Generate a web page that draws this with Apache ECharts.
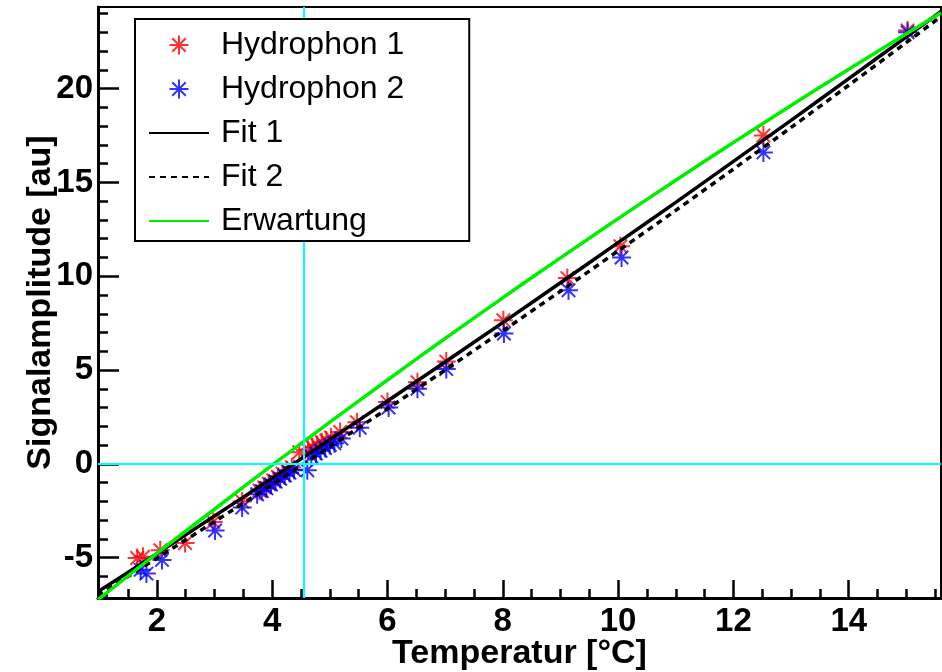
<!DOCTYPE html>
<html>
<head>
<meta charset="utf-8">
<script src="https://cdn.jsdelivr.net/npm/echarts@6/dist/echarts.min.js"></script>
<style>
html,body{margin:0;padding:0;background:#fff;}
#chart{width:942px;height:672px;}
</style>
</head>
<body>
<div id="chart"></div>
<script>
// ---- data ----
const h1X = [1.66, 1.76, 2.06, 2.49, 2.98, 3.48, 3.78, 3.86, 3.94, 4.02, 4.10, 4.18, 4.26, 4.34, 4.47, 4.62, 4.70, 4.78, 4.86, 4.94, 5.02, 5.18, 5.47, 6.00, 6.52, 7.02, 8.01, 9.12, 10.04, 12.52, 15.02];
const h1Y = [-5.02, -4.95, -4.6, -4.22, -3.1, -2.0, -1.42, -1.25, -1.05, -0.87, -0.7, -0.52, -0.35, -0.18, 0.62, 0.75, 0.9, 1.0, 1.15, 1.25, 1.4, 1.7, 2.22, 3.3, 4.35, 5.45, 7.66, 9.9, 11.6, 17.5, 23.1];
const h2X = [1.72, 1.82, 2.09, 3.01, 3.48, 3.74, 3.82, 3.90, 3.98, 4.06, 4.14, 4.22, 4.30, 4.38, 4.61, 4.68, 4.76, 4.84, 4.92, 5.00, 5.08, 5.20, 5.52, 6.02, 6.52, 7.02, 8.02, 9.14, 10.06, 12.52, 15.02];
const h2Y = [-5.65, -5.85, -5.12, -3.55, -2.33, -1.62, -1.45, -1.3, -1.1, -0.95, -0.8, -0.62, -0.47, -0.32, -0.34, 0.4, 0.55, 0.7, 0.85, 1.0, 1.1, 1.35, 1.92, 3.0, 4.0, 5.05, 6.95, 9.25, 11.0, 16.6, 23.0];
const fitX  = [0.98, 2, 3, 4, 5, 6, 7, 8, 9, 10, 11, 12, 13, 14, 15, 15.6];
const fit1Y = [-6.81, -4.79, -2.78, -0.76, 1.29, 3.35, 5.43, 7.53, 9.65, 11.79, 13.94, 16.12, 18.31, 20.53, 22.76, 24.11];
const fit2Y = [-7.00, -5.03, -3.08, -1.10, 0.91, 2.94, 5.00, 7.09, 9.20, 11.35, 13.51, 15.71, 17.93, 20.18, 22.46, 23.84];
const expY  = [-7.23, -4.77, -2.42, -0.07, 2.22, 4.47, 6.68, 8.85, 10.98, 13.07, 15.12, 17.13, 19.10, 21.03, 22.92, 24.04];
const crossX = 4.54;
const crossY = 0;
const xTickLabels = [2, 4, 6, 8, 10, 12, 14];
const yTickLabels = [-5, 0, 5, 10, 15, 20];
const xRange = [0.98, 15.6];
const yRange = [-7.15, 24.35];
const seriesNames = ['Hydrophon 1', 'Hydrophon 2', 'Fit 1', 'Fit 2', 'Erwartung'];

// ---- helpers ----
function zip(xs, ys) { return xs.map((x, i) => [x, ys[i]]); }
function steps(a, b, s) { const r = []; for (let v = a; v <= b + 1e-9; v += s) r.push(+v.toFixed(3)); return r; }
const xMinor = steps(1, 15.5, 0.5).filter(v => xTickLabels.indexOf(v) < 0);
const yMinor = steps(-7, 24, 1).filter(v => yTickLabels.indexOf(v) < 0);

const FONT = '"Liberation Sans", Arial, Helvetica, sans-serif';
const star = 'path://M10,0L10,20M0,10L20,10M2.93,2.93L17.07,17.07M2.93,17.07L17.07,2.93';

const chart = echarts.init(document.getElementById('chart'), null, {renderer: 'canvas'});
const axisCommon = {type: 'value', splitLine: {show: false}};
const option = {
  animation: false,
  backgroundColor: '#fff',
  grid: {left: 98, right: 1, top: 7, bottom: 74, containLabel: false, outerBoundsMode: 'none',
    show: true, borderColor: '#000', borderWidth: 2, backgroundColor: 'transparent'},
  xAxis: [
    Object.assign({}, axisCommon, {
      min: xRange[0], max: xRange[1],
      axisLine: {show: true, onZero: false, lineStyle: {color: '#000', width: 3}},
      axisTick: {show: true, inside: true, length: 18, customValues: xTickLabels, lineStyle: {color: '#000', width: 2.5}},
      axisLabel: {show: true, customValues: xTickLabels, margin: 7, color: '#000', fontFamily: FONT, fontWeight: 'bold', fontSize: 33},
      name: 'Temperatur [°C]', nameLocation: 'middle', nameGap: 39, nameMoveOverlap: false,
      nameTextStyle: {color: '#000', fontFamily: FONT, fontWeight: 'bold', fontSize: 34}
    }),
    Object.assign({}, axisCommon, {
      min: xRange[0], max: xRange[1], position: 'bottom',
      axisLine: {show: false, onZero: false},
      axisTick: {show: true, inside: true, length: 9, customValues: xMinor, lineStyle: {color: '#000', width: 2.5}},
      axisLabel: {show: false}
    })
  ],
  yAxis: [
    Object.assign({}, axisCommon, {
      min: yRange[0], max: yRange[1],
      axisLine: {show: true, onZero: false, lineStyle: {color: '#000', width: 3}},
      axisTick: {show: true, inside: true, length: 21, customValues: yTickLabels, lineStyle: {color: '#000', width: 2.5}},
      axisLabel: {show: true, customValues: yTickLabels, margin: 5, color: '#000', fontFamily: FONT, fontWeight: 'bold', fontSize: 33},
      name: 'Signalamplitude [au]', nameLocation: 'middle', nameGap: 40, nameMoveOverlap: false,
      nameTextStyle: {color: '#000', fontFamily: FONT, fontWeight: 'bold', fontSize: 34}
    }),
    Object.assign({}, axisCommon, {
      min: yRange[0], max: yRange[1], position: 'left',
      axisLine: {show: false, onZero: false},
      axisTick: {show: true, inside: true, length: 10, customValues: yMinor, lineStyle: {color: '#000', width: 2.5}},
      axisLabel: {show: false}
    })
  ],
  legend: {
    data: seriesNames.map((n, i) => i < 2 ? {name: n} : {name: n, itemStyle: {opacity: 0}}),
    orient: 'vertical',
    left: 135, top: 19,
    padding: [8, 65, 2, 13],
    itemGap: 8,
    itemWidth: 60, itemHeight: 19,
    backgroundColor: '#fff',
    borderColor: '#000', borderWidth: 2,
    borderRadius: 0,
    z: 10,
    textStyle: {color: '#000', fontFamily: FONT, fontSize: 32, lineHeight: 36, padding: [0, 0, 0, 7]}
  },
  series: [
    {name: seriesNames[0], type: 'scatter', data: zip(h1X, h1Y), symbol: star, symbolSize: 19,
      itemStyle: {color: '#ff0000', borderColor: '#ff0000', borderWidth: 2}, z: 2},
    {name: seriesNames[1], type: 'scatter', data: zip(h2X, h2Y), symbol: star, symbolSize: 19,
      itemStyle: {color: '#0000ff', borderColor: '#0000ff', borderWidth: 2}, z: 2},
    {name: seriesNames[2], type: 'line', data: zip(fitX, fit1Y), symbol: 'none', smooth: 0.3,
      lineStyle: {color: '#000', width: 3.5}, itemStyle: {color: '#000', opacity: 0}, z: 3},
    {name: seriesNames[3], type: 'line', data: zip(fitX, fit2Y), symbol: 'none', smooth: 0.3,
      lineStyle: {color: '#000', width: 3.5, type: [6, 5]}, itemStyle: {color: '#000', opacity: 0}, z: 3},
    {name: seriesNames[4], type: 'line', data: zip(fitX, expY), symbol: 'none', smooth: 0.3,
      lineStyle: {color: '#00ee00', width: 3.5}, itemStyle: {color: '#00ee00', opacity: 0}, z: 3},
    {name: 'cross', type: 'line', data: [], symbol: 'none', z: 4, silent: true,
      markLine: {silent: true, symbol: 'none', label: {show: false}, animation: false,
        lineStyle: {color: '#00ffff', width: 2, type: 'solid'},
        data: [{xAxis: crossX}, {yAxis: crossY}]}}
  ]
};
chart.setOption(option);
</script>
</body>
</html>
